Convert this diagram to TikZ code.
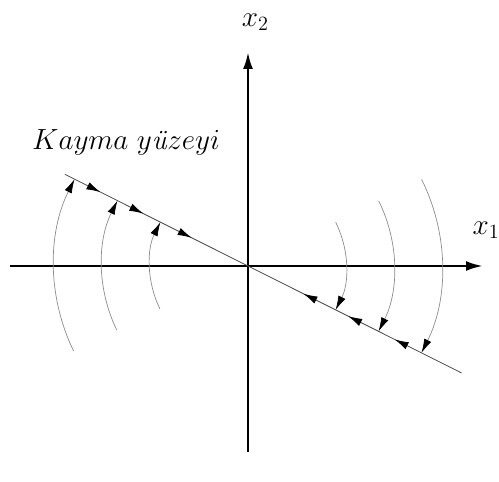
\documentclass[tikz,border=0pt]{standalone}
\usetikzlibrary{
    arrows.meta,
    decorations.markings
}
\tikzset{
  axis/.style={
    line width=1.8pt,
    -{Latex[length=12pt,width=7pt]}
  },
  slipline/.style={
    black!70,
    line width=0.6pt
  },
  flowarc/.style={
    black!45,
    line width=0.5pt,
    -{Latex[black,length=10pt,width=5.5pt]}
  },
  sliptip/.tip={Latex[length=10pt,width=5.5pt]},
  lbl/.style={
    font=\fontsize{20}{24}\selectfont,
    inner sep=0pt
  }
}

\begin{document}
\begin{tikzpicture}

    \useasboundingbox (-6.2,-5.4) rectangle (6.275,6.65);

    %-------------------------
    % eksenler
    %-------------------------
    \coordinate (O) at (0,0);
    \coordinate (W) at (-5.95,0);
    \coordinate (E) at (5.875,0);
    \coordinate (S) at (0,-4.65);
    \coordinate (N) at (0,5.35);

    \draw[axis] (W) -- (E);
    \draw[axis] (S) -- (N);

    \node[lbl] (x1) at (5.95,0.9) {$x_1$};
    \node[lbl] (x2) at (0.18,6.1) {$x_2$};

    %-------------------------
    % kayma yüzeyi
    %-------------------------
    \coordinate (L) at (153.4:5.12);
    \coordinate (R) at (-26.6:5.97);

    \draw[slipline, postaction={decorate}, decoration={markings,
        mark=at position 0.995cm with {\arrow[black]{sliptip}},
        mark=at position 2.195cm with {\arrow[black]{sliptip}},
        mark=at position 3.545cm with {\arrow[black]{sliptip}},
        mark=at position 6.67cm with {\arrowreversed[black]{sliptip}},
        mark=at position 7.92cm with {\arrowreversed[black]{sliptip}},
        mark=at position 9.22cm with {\arrowreversed[black]{sliptip}}}]
        (L) -- (R);

    \node[lbl] (kayma) at (-3.05,3.08) {$Kayma\ y$\textit{ü}$zeyi$};

    %-------------------------
    % yaylar
    %-------------------------
    \foreach \r in {2.45,3.65,4.85} {
        \draw[flowarc] (206:\r) arc[start angle=206, end angle=153.4, radius=\r];
        \draw[flowarc] (26.5:\r) arc[start angle=26.5, end angle=-26.6, radius=\r];
    }

\end{tikzpicture}
\end{document}
